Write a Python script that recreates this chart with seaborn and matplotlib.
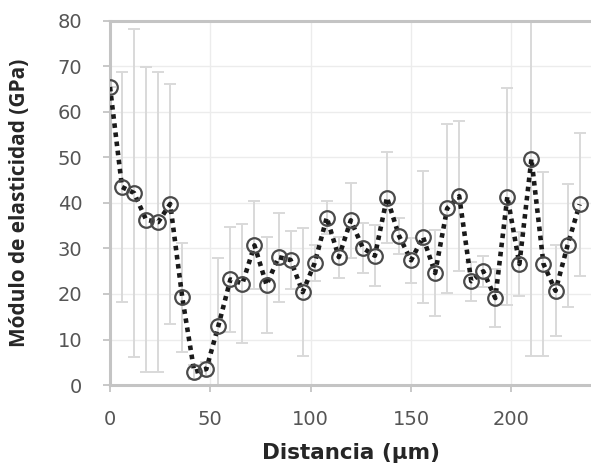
import matplotlib
matplotlib.use("Agg")
import matplotlib.pyplot as plt
import seaborn as sns
import pandas as pd

# distance along the profile (um)
distancia = [0, 6, 12, 18, 24, 30, 36, 42, 48, 54,
             60, 66, 72, 78, 84, 90, 96, 102, 108, 114,
             120, 126, 132, 138, 144, 150, 156, 162, 168, 174,
             180, 186, 192, 198, 204, 210, 216, 222, 228, 234]
# elastic modulus (GPa)
modulo = [65.5, 43.5, 42.2, 36.3, 35.8, 39.8, 19.3, 2.9, 3.5, 13.0,
          23.2, 22.3, 30.7, 22.0, 28.1, 27.5, 20.4, 26.8, 36.8, 28.1,
          36.2, 30.1, 28.4, 41.2, 32.8, 27.4, 32.5, 24.6, 38.8, 41.5,
          22.8, 25.0, 19.1, 41.4, 26.6, 49.7, 26.6, 20.7, 30.7, 39.7]
# standard deviation (GPa)
desviacion = [0.0, 25.3, 36.0, 33.5, 33.0, 26.3, 12.0, 1.5, 1.5, 15.0,
              11.5, 13.0, 9.7, 10.6, 9.8, 6.4, 14.0, 4.0, 3.7, 4.5,
              8.3, 5.4, 6.7, 10.0, 4.0, 5.0, 14.5, 9.5, 18.6, 16.5,
              4.3, 3.4, 6.3, 23.8, 7.0, 43.4, 20.2, 10.0, 13.5, 15.7]

x_ticks = [0, 50, 100, 150, 200]
y_ticks = [0, 10, 20, 30, 40, 50, 60, 70, 80]

df = pd.DataFrame({"x": distancia, "y": modulo, "err": desviacion})

sns.set_style("white")
plt.rcParams["font.family"] = ["DejaVu Sans"]

fig = plt.figure(figsize=(5.91, 4.66), dpi=100)
ax = fig.add_axes([0.1861, 0.1738, 0.8150, 0.7812])

# error bars (light grey, behind the line)
ax.errorbar(df["x"], df["y"], yerr=df["err"], fmt="none",
            ecolor="#d9d9d9", elinewidth=1.4, capsize=4, capthick=1.4, zorder=2)

sns.lineplot(data=df, x="x", y="y", ax=ax, color="#1a1a1a",
             linestyle=(0, (1, 1.0)), linewidth=3.3, zorder=3,
             marker="o", markersize=10.5, markerfacecolor="none",
             markeredgecolor="#4a4a4a", markeredgewidth=1.6)

ax.set_xlim(0, 240)
ax.set_ylim(0, 80)
ax.set_xticks(x_ticks)
ax.set_yticks(y_ticks)

ax.grid(True, color="#ececec", linewidth=1.0)
ax.set_axisbelow(True)

for side in ["left", "bottom", "top"]:
    ax.spines[side].set_visible(True)
    ax.spines[side].set_color("#c4c4c4")
    ax.spines[side].set_linewidth(2.2)
ax.spines["right"].set_visible(False)

ax.tick_params(axis="both", which="major", direction="out", length=5,
               width=1.3, color="#c4c4c4", labelsize=14, labelcolor="#555555",
               bottom=True, left=True)
ax.tick_params(axis="x", pad=13)
ax.tick_params(axis="y", pad=15)

ax.set_xlabel("Distancia (µm)", fontsize=15.5, fontweight="bold",
              color="#262626", labelpad=10)
ax.set_ylabel("Módulo de elasticidad (GPa)", fontfamily="Open Sans",
              fontsize=15, fontweight="bold", color="#262626")
ax.yaxis.set_label_coords(-0.166, 0.5)

fig.savefig("out.png", dpi=100)
